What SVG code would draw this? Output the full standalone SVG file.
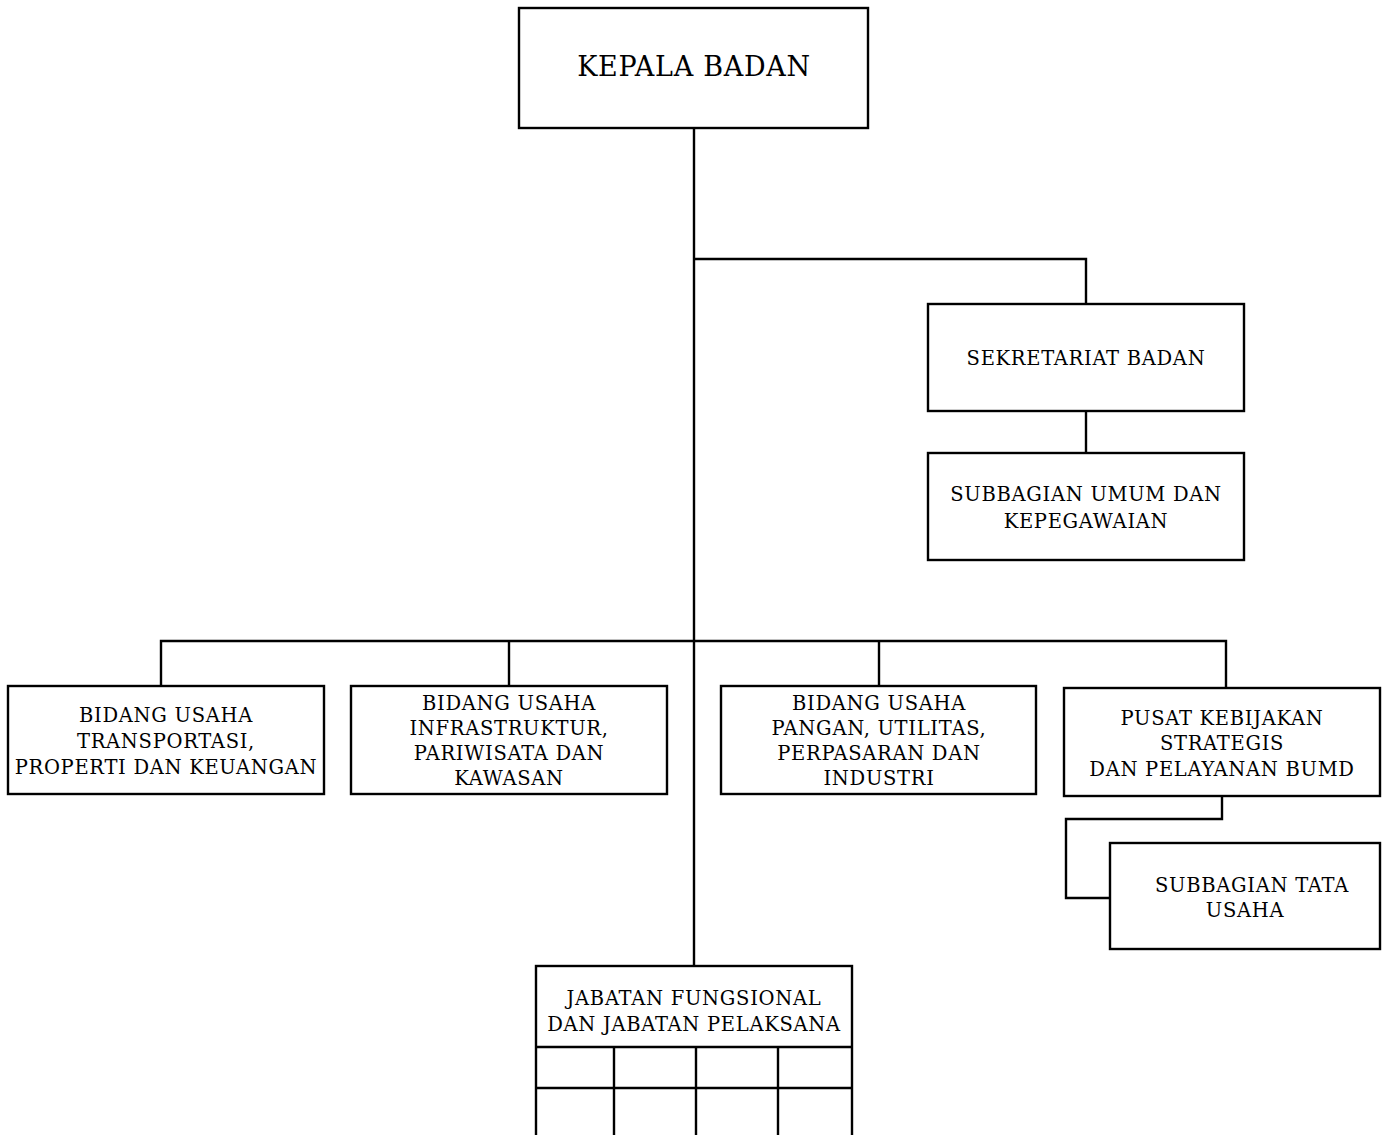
<svg xmlns="http://www.w3.org/2000/svg" width="1390" height="1135" viewBox="0 0 1390 1135">
<style>
.box{fill:#fff;stroke:#000;stroke-width:2.4}
.ln{fill:none;stroke:#000;stroke-width:2.4}
text{font-family:"DejaVu Serif","Liberation Serif",serif;font-size:19.5px;letter-spacing:0.7px;fill:#000;text-anchor:middle}
.big{font-size:27px;letter-spacing:0.7px}
</style>
<rect width="1390" height="1135" fill="#fff"/>
<g id="connectors">
<path class="ln" d="M694 128V966"/>
<path class="ln" d="M694 259H1086V304"/>
<path class="ln" d="M1086 411V453"/>
<path class="ln" d="M161 686V641H1226V688"/>
<path class="ln" d="M509 641V686"/>
<path class="ln" d="M879 641V686"/>
<path class="ln" d="M1222 796V819H1066V898H1110"/>
</g>
<g id="kepala"><rect class="box" x="519" y="8" width="349" height="120"/><text class="big" x="694" y="76">KEPALA BADAN</text></g>
<g id="sekretariat"><rect class="box" x="928" y="304" width="316" height="107"/><text x="1086" y="365">SEKRETARIAT BADAN</text></g>
<g id="subumum"><rect class="box" x="928" y="453" width="316" height="107"/><text x="1086" y="501">SUBBAGIAN UMUM DAN</text><text x="1086" y="528">KEPEGAWAIAN</text></g>
<g id="bidang1"><rect class="box" x="8" y="686" width="316" height="108"/><text x="166" y="722">BIDANG USAHA</text><text x="166" y="748">TRANSPORTASI,</text><text x="166" y="774">PROPERTI DAN KEUANGAN</text></g>
<g id="bidang2"><rect class="box" x="351" y="686" width="316" height="108"/><text x="509" y="710">BIDANG USAHA</text><text x="509" y="735">INFRASTRUKTUR,</text><text x="509" y="760">PARIWISATA DAN</text><text x="509" y="785">KAWASAN</text></g>
<g id="bidang3"><rect class="box" x="721" y="686" width="315" height="108"/><text x="879" y="710">BIDANG USAHA</text><text x="879" y="735">PANGAN, UTILITAS,</text><text x="879" y="760">PERPASARAN DAN</text><text x="879" y="785">INDUSTRI</text></g>
<g id="pusat"><rect class="box" x="1064" y="688" width="316" height="108"/><text x="1222" y="725">PUSAT KEBIJAKAN</text><text x="1222" y="750">STRATEGIS</text><text x="1222" y="776">DAN PELAYANAN BUMD</text></g>
<g id="tatausaha"><rect class="box" x="1110" y="843" width="270" height="106"/><text x="1252" y="892">SUBBAGIAN TATA</text><text x="1245" y="917">USAHA</text></g>
<g id="jabatan"><rect class="box" x="536" y="966" width="316" height="180"/><text x="694" y="1005">JABATAN FUNGSIONAL</text><text x="694" y="1031">DAN JABATAN PELAKSANA</text>
<path class="ln" d="M536 1047H852M536 1088H852M614 1047V1140M696 1047V1140M778 1047V1140"/></g>
</svg>
